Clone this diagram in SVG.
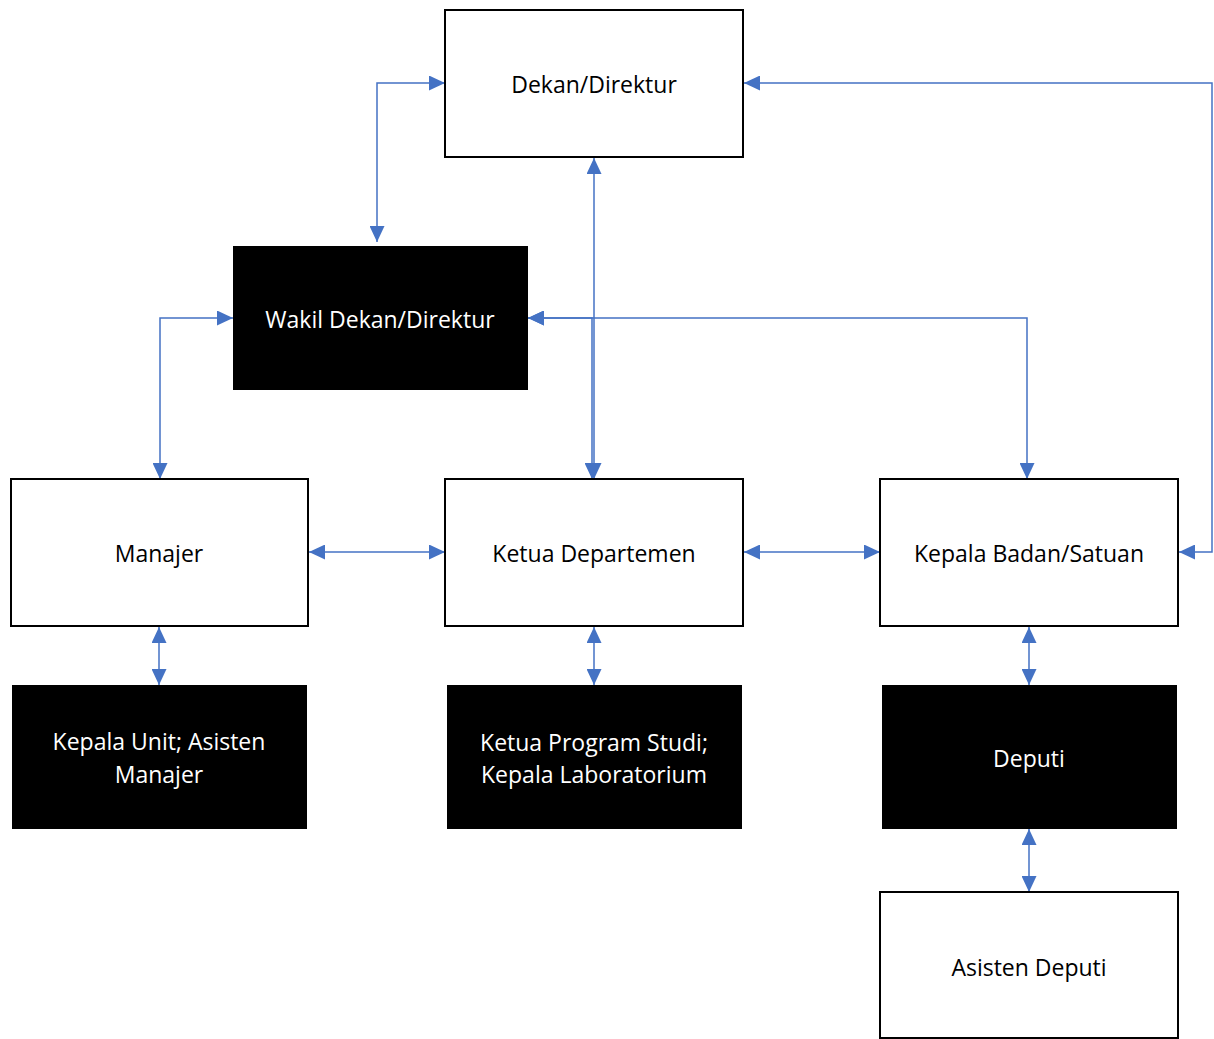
<svg xmlns="http://www.w3.org/2000/svg" width="1214" height="1039" viewBox="0 0 1214 1039">
<style>
.w{fill:#fff;stroke:#000;stroke-width:2}
.b{fill:#000;stroke:none}
.t{font-family:"Open Sans","Liberation Sans",sans-serif;font-size:23px;text-anchor:middle;dominant-baseline:central}
.tw{fill:#000}
.tb{fill:#fff}
.c{fill:none;stroke:#4472C4;stroke-width:1.5;marker-start:url(#ah);marker-end:url(#ah)}
</style>
<defs>
<marker id="ah" viewBox="0 0 16 15" refX="16" refY="7.5" markerWidth="16" markerHeight="15" markerUnits="userSpaceOnUse" orient="auto-start-reverse">
<path d="M0,0 L16,7.5 L0,15 Z" fill="#4472C4"/>
</marker>
</defs>
<rect width="1214" height="1039" fill="#fff"/>
<g id="connectors">
<path class="c" d="M377,242 V83 H445"/>
<path class="c" d="M594,158 V479"/>
<path class="c" d="M528,318 H592 V479"/>
<path class="c" d="M528,318 H1027 V479"/>
<path class="c" d="M744,83 H1212 V552 H1179"/>
<path class="c" d="M233,318 H160 V479"/>
<path class="c" d="M309,552 H445"/>
<path class="c" d="M744,552 H880"/>
<path class="c" d="M159,627 V685"/>
<path class="c" d="M594,627 V685"/>
<path class="c" d="M1029,627 V685"/>
<path class="c" d="M1029,829 V892"/>
</g>
<g id="dekan"><rect class="w" x="445" y="10" width="298" height="147"/><text class="t tw" x="594" y="84">Dekan/Direktur</text></g>
<g id="wakil"><rect class="b" x="233" y="246" width="295" height="144"/><text class="t tb" x="380" y="319">Wakil Dekan/Direktur</text></g>
<g id="manajer"><rect class="w" x="11" y="479" width="297" height="147"/><text class="t tw" x="159" y="553">Manajer</text></g>
<g id="ketua"><rect class="w" x="445" y="479" width="298" height="147"/><text class="t tw" x="594" y="553">Ketua Departemen</text></g>
<g id="kepala"><rect class="w" x="880" y="479" width="298" height="147"/><text class="t tw" x="1029" y="553">Kepala Badan/Satuan</text></g>
<g id="kepalaunit"><rect class="b" x="12" y="685" width="295" height="144"/><text class="t tb" x="159" y="741">Kepala Unit; Asisten</text><text class="t tb" x="159" y="774">Manajer</text></g>
<g id="prodi"><rect class="b" x="447" y="685" width="295" height="144"/><text class="t tb" x="594" y="742">Ketua Program Studi;</text><text class="t tb" x="594" y="774">Kepala Laboratorium</text></g>
<g id="deputi"><rect class="b" x="882" y="685" width="295" height="144"/><text class="t tb" x="1029" y="758">Deputi</text></g>
<g id="asisten"><rect class="w" x="880" y="892" width="298" height="146"/><text class="t tw" x="1029" y="967">Asisten Deputi</text></g>
</svg>
